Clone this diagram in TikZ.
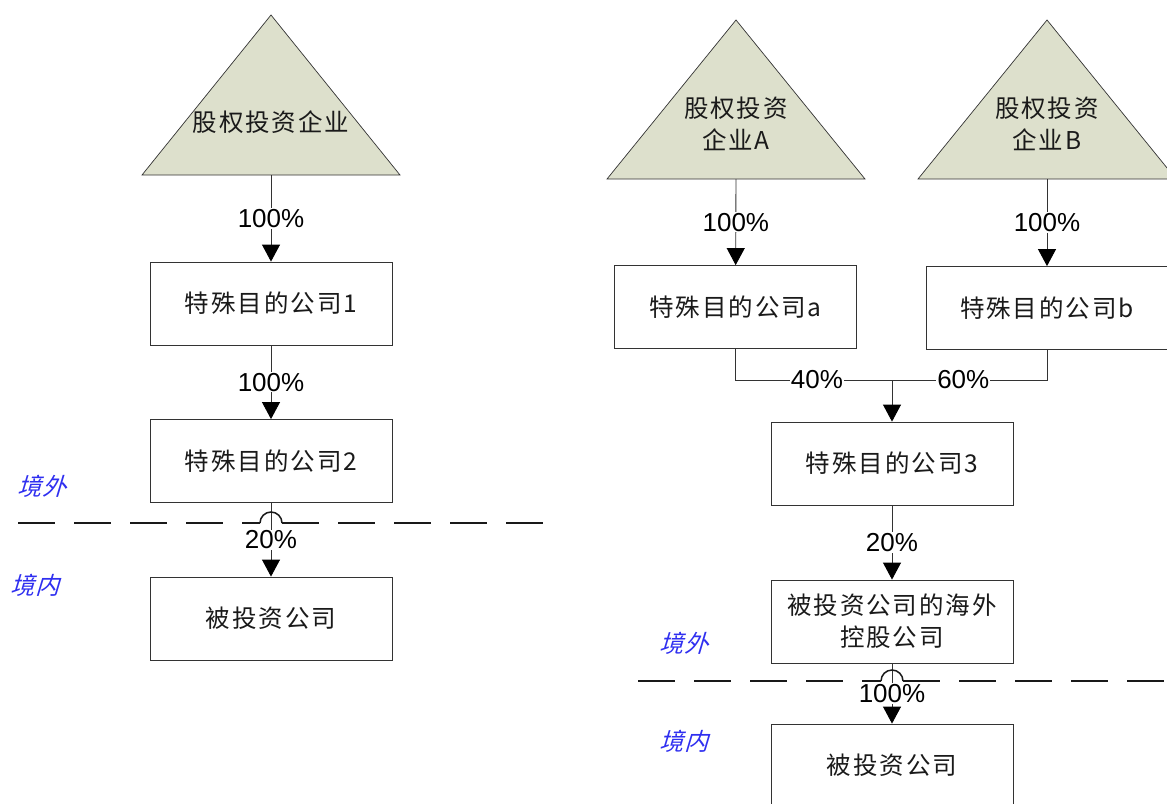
\documentclass[tikz,border=0pt]{standalone}
\usepackage{fontspec}
\usetikzlibrary{arrows.meta}
\newfontfamily\cjk[LetterSpace=8]{Noto Sans CJK SC}
\newfontfamily\cjkit[FakeSlant=0.3,LetterSpace=4]{Noto Sans CJK SC}
\newfontfamily\lat{Liberation Sans}
\definecolor{trifill}{HTML}{DDE0CC}
\definecolor{zoneblue}{HTML}{2F2FF0}
\definecolor{txt}{HTML}{1A1A1A}
\tikzset{
  box/.style={draw=black!80, line width=0.8pt, fill=white, minimum width=242pt, minimum height=83pt,
    inner sep=2pt, align=center, font=\cjk\fontsize{24.5}{32}\selectfont, text=txt},
  tri/.style={draw=black!80, line width=0.7pt, fill=trifill},
  trilabel/.style={align=center, font=\cjk\fontsize{24.5}{32}\selectfont, text=txt, inner sep=0pt},
  arr/.style={draw=black!80, line width=0.9pt, -{Triangle[width=18pt,length=17pt,color=black]}},
  conn/.style={draw=black!80, line width=0.9pt},
  lbl/.style={fill=white, inner sep=1pt, font=\lat\fontsize{26}{28}\selectfont},
  border/.style={draw=black!90, line width=2pt, dash pattern=on 37pt off 19pt},
  hop/.style={draw=black!90, line width=1.5pt},
  zone/.style={font=\cjkit\fontsize{24}{26}\selectfont, text=zoneblue, inner sep=0pt}
}
\begin{document}
\begin{tikzpicture}[x=1pt,y=-1pt]
\useasboundingbox (0,0) rectangle (1167,803);
\clip (0,0) rectangle (1167,803);

% ---------- left ----------
\filldraw[tri] (271,15) -- (400,175) -- (142,175) -- cycle;
\node[trilabel] (tL) at (271,122) {股权投资企业};
\coordinate (tLb) at (271,175);

\node[box] (b1) at (271,303.5) {特殊目的公司1};
\node[box] (b2) at (271,461) {特殊目的公司2};
\node[box] (b3) at (271,618.5) {被投资公司};

\draw[arr] (tLb) -- node[lbl] {100\%} (b1);
\draw[arr] (b1) -- node[lbl] {100\%} (b2);

\coordinate (dL1) at (18,523);
\coordinate (dL2) at (555,523);
\coordinate (hL1) at (260,523);
\coordinate (hL2) at (282,523);
\draw[border] (dL1) -- (hL1);
\draw[border] (hL2) -- (dL2);
\draw[arr] (b2) -- node[lbl, pos=0.5] {20\%} (b3);
\draw[hop] (hL1) arc[start angle=180,end angle=360,radius=11];

\node[zone] (zoL) at (42,486) {境外};
\node[zone] (ziL) at (35,585) {境内};

% ---------- right ----------
\filldraw[tri] (736,20) -- (865,179) -- (607,179) -- cycle;
\node[trilabel] (tA) at (736,124) {股权投资\\企业A};
\coordinate (tAb) at (736,179);

\filldraw[tri] (1047,20) -- (1176,179) -- (918,179) -- cycle;
\node[trilabel] (tB) at (1047,124) {股权投资\\企业B};
\coordinate (tBb) at (1047,179);

\node[box] (ba) at (735.5,307) {特殊目的公司a};
\node[box] (bb) at (1047,308) {特殊目的公司b};
\node[box] (bc) at (892,463.5) {特殊目的公司3};
\node[box] (bd) at (892,621.5) {被投资公司的海外\\控股公司};
\node[box] (be) at (892,765.5) {被投资公司};

\draw[arr] (tAb) -- node[lbl] {100\%} (ba);
\draw[arr] (tBb) -- node[lbl] {100\%} (bb);

\coordinate (j) at (892,380);
\draw[conn] (ba.south) |- node[lbl, pos=0.76] {40\%} (j);
\draw[conn] (bb.south) |- node[lbl, pos=0.77] {60\%} (j);
\draw[arr] (j) -- (bc);

\draw[arr] (bc) -- node[lbl] {20\%} (bd);

\coordinate (dR1) at (638,681);
\coordinate (dR2) at (1170,681);
\coordinate (hR1) at (881,681);
\coordinate (hR2) at (903,681);
\draw[border] (dR1) -- (hR1);
\draw[border] (hR2) -- (dR2);
\draw[arr] (bd) -- node[lbl] {100\%} (be);
\draw[hop] (hR1) arc[start angle=180,end angle=360,radius=11];

\node[zone] (zoR) at (684,643) {境外};
\node[zone] (ziR) at (684,741) {境内};
\end{tikzpicture}
\end{document}
